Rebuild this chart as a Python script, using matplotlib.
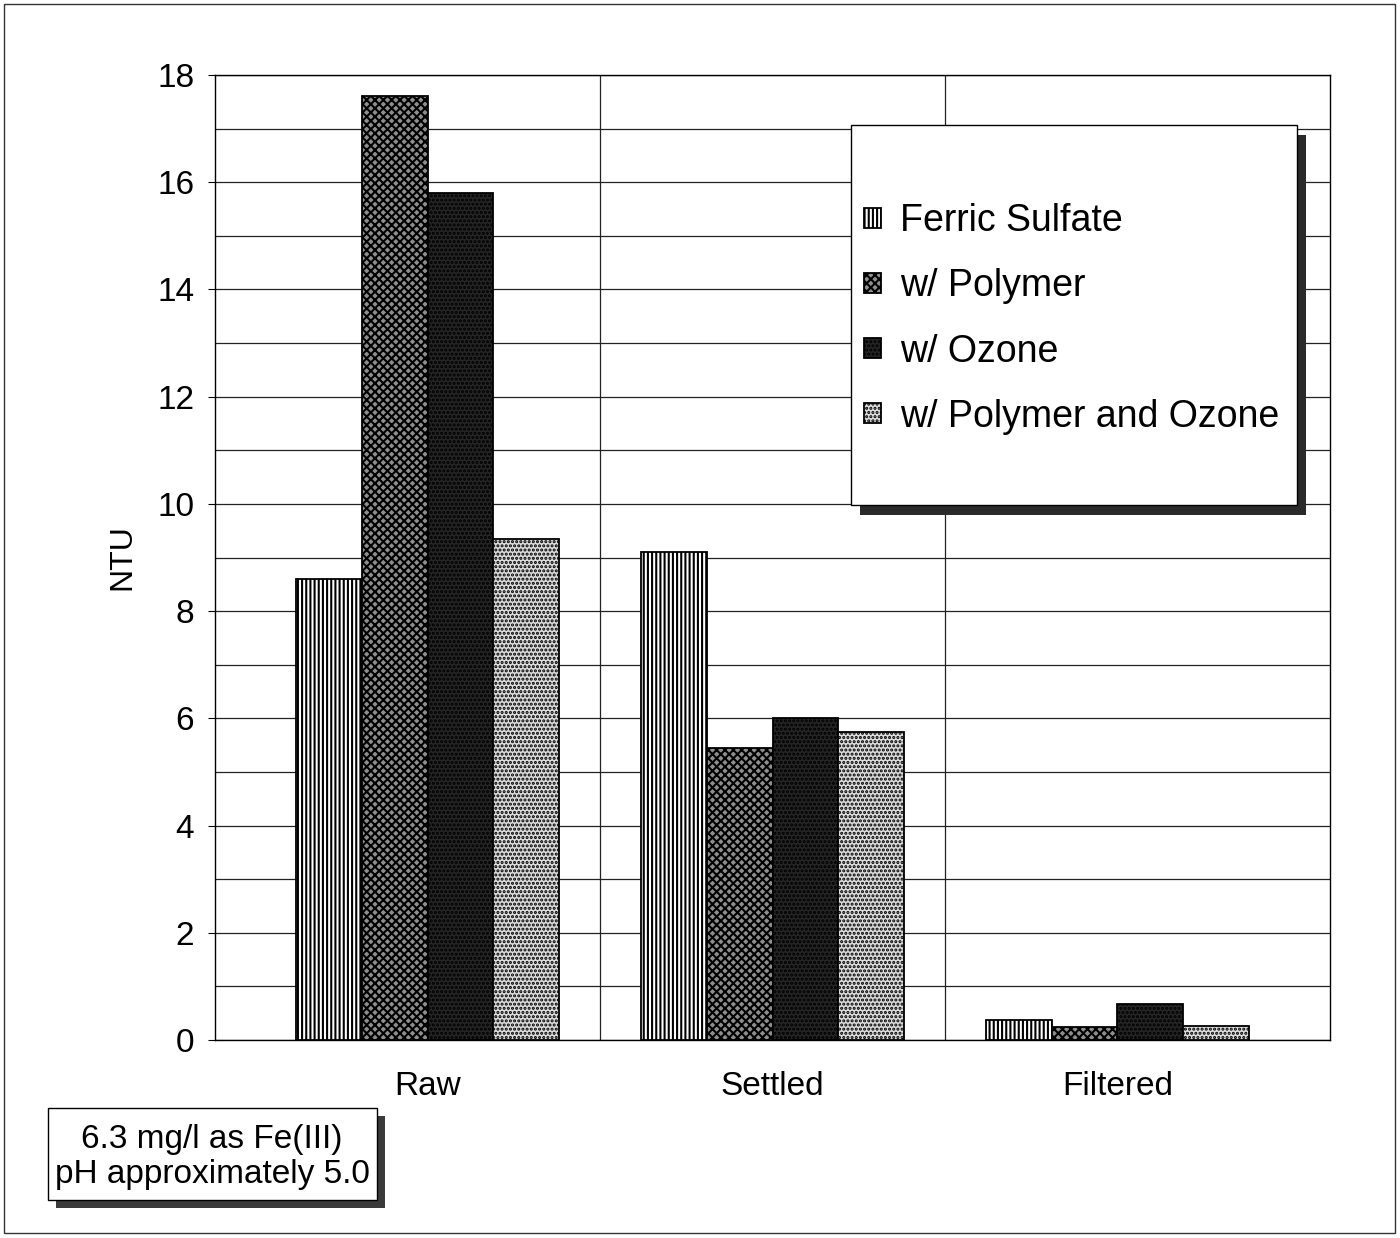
import numpy as np
import matplotlib
matplotlib.use('Agg')
import matplotlib.pyplot as plt
from matplotlib.patches import Rectangle

plt.rcParams['font.family'] = ['Liberation Sans', 'DejaVu Sans']
plt.rcParams['hatch.linewidth'] = 1.5

# data
categories = ['Raw', 'Settled', 'Filtered']
series = ['Ferric Sulfate', 'w/ Polymer', 'w/ Ozone', 'w/ Polymer and Ozone']
ferric = [8.6, 9.1, 0.38]
polymer = [17.6, 5.45, 0.25]
ozone = [15.8, 6.0, 0.68]
poly_ozone = [9.35, 5.75, 0.27]

faces = ['white', '#8e8e8e', '#252525', '#dcdcdc']
hatches = ['||||', 'xxxx', '....', '....']

fig = plt.figure(figsize=(14, 12.38), dpi=100)
ax = fig.add_axes([215 / 1400, 1 - 1040 / 1238, 1115 / 1400, 965 / 1238])

x = np.arange(len(categories))
w = 0.19
values = [ferric, polymer, ozone, poly_ozone]
handles = []
for i, vals in enumerate(values):
    b = ax.bar(x + (i - 1.5) * w, vals, w, color=faces[i], edgecolor='black',
               hatch=hatches[i], linewidth=1.3, label=series[i], zorder=3)
    handles.append(b)

ax.set_ylim(0, 18)
ax.set_xlim(-0.5 - 0.116, 2.5 + 0.116)
ax.set_yticks(np.arange(0, 19, 2))
ax.set_yticks(np.arange(0, 19, 1), minor=True)
ax.tick_params(axis='y', which='major', labelsize=24, length=5, pad=10)
ax.tick_params(axis='y', which='minor', length=0)
ax.set_xticks(x)
ax.set_xticklabels(categories, fontsize=24)
ax.tick_params(axis='x', length=0, pad=22)
ax.grid(axis='y', which='both', color='#222222', linewidth=0.9, zorder=0)
for xv in [0.5, 1.5]:
    ax.axvline(xv, color='#222222', linewidth=0.9, zorder=0)
for s in ax.spines.values():
    s.set_linewidth(1.0)
ax.set_ylabel('NTU', fontsize=23, labelpad=14)

# legend box with shadow
fig.patches.append(Rectangle((860 / 1400, 1 - 515 / 1238), 446 / 1400, 380 / 1238,
                             transform=fig.transFigure, facecolor='#2a2a2a',
                             edgecolor='none', zorder=5))
fig.patches.append(Rectangle((851 / 1400, 1 - 505 / 1238), 446 / 1400, 380 / 1238,
                             transform=fig.transFigure, facecolor='white',
                             edgecolor='black', linewidth=1.0, zorder=6))
leg = fig.legend(handles=handles, labels=series, loc='upper left',
                 bbox_to_anchor=(849 / 1400, 1 - 188 / 1238), frameon=False,
                 fontsize=27, handlelength=0.45, handleheight=0.45,
                 handletextpad=0.5, labelspacing=0.78, borderaxespad=0)
leg.set_zorder(7)

# note box with shadow
fig.patches.append(Rectangle((56 / 1400, 1 - 1208 / 1238), 329 / 1400, 92 / 1238,
                             transform=fig.transFigure, facecolor='#3a3a3a',
                             edgecolor='none', zorder=5))
fig.patches.append(Rectangle((48 / 1400, 1 - 1200 / 1238), 329 / 1400, 92 / 1238,
                             transform=fig.transFigure, facecolor='white',
                             edgecolor='black', linewidth=1.0, zorder=6))
fig.text(212 / 1400, 1 - 1157 / 1238, '6.3 mg/l as Fe(III)\npH approximately 5.0',
         ha='center', va='center', fontsize=24, linespacing=1.15, zorder=7)

# outer frame
fig.patches.append(Rectangle((4 / 1400, 1 - 1233 / 1238), 1391 / 1400, 1229 / 1238,
                             transform=fig.transFigure, facecolor='none',
                             edgecolor='#333333', linewidth=1.0, zorder=8))

fig.savefig('out.png', dpi=100)
